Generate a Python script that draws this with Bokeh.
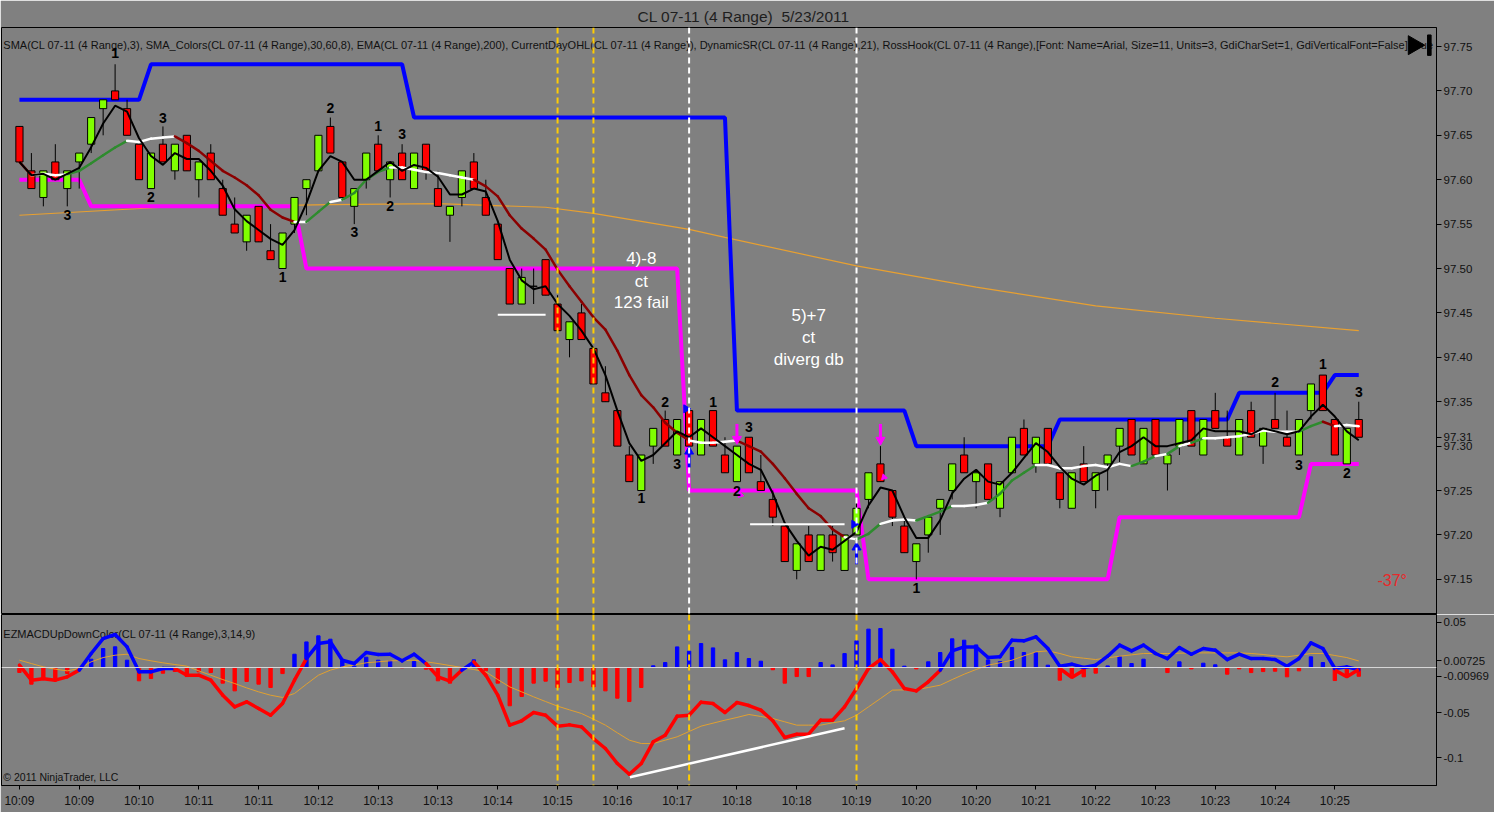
import numpy as np
import pandas as pd
from bokeh.plotting import figure
from bokeh.layouts import column
from bokeh.models import Range1d, FixedTicker, Span, ColumnDataSource, NumeralTickFormatter
from bokeh.core.properties import value
from bokeh.embed import file_html
from bokeh.resources import INLINE

FONT = "Liberation Sans"
BG = "#808080"
UP_COL = "#80ff00"
DN_COL = "#ff0000"

# ---------------- price data (4-range bars) ----------------
opens = [
    97.66, 97.61, 97.58, 97.62, 97.59, 97.62, 97.64, 97.68, 97.70, 97.68,
    97.64, 97.59, 97.64, 97.61, 97.65, 97.60, 97.63, 97.59, 97.55, 97.53,
    97.57, 97.52, 97.50, 97.55, 97.59, 97.61, 97.66, 97.62, 97.57, 97.60,
    97.64, 97.60, 97.63, 97.59, 97.64, 97.59, 97.56, 97.58, 97.62, 97.58,
    97.55, 97.50, 97.46, 97.48, 97.51, 97.46, 97.42, 97.45, 97.41, 97.36,
    97.34, 97.29, 97.25, 97.30, 97.33, 97.29, 97.34, 97.29, 97.34, 97.29,
    97.26, 97.31, 97.26, 97.24, 97.21, 97.16, 97.20, 97.16, 97.20, 97.16,
    97.20, 97.24, 97.28, 97.25, 97.21, 97.17, 97.20, 97.23, 97.25, 97.29,
    97.26, 97.28, 97.23, 97.27, 97.32, 97.28, 97.32, 97.27, 97.23, 97.28,
    97.25, 97.28, 97.30, 97.33, 97.28, 97.33, 97.28, 97.30, 97.34, 97.29,
    97.34, 97.31, 97.29, 97.34, 97.30, 97.33, 97.31, 97.29, 97.34, 97.38,
    97.33, 97.28, 97.33]
highs = [
    97.66, 97.63, 97.61, 97.64, 97.61, 97.63, 97.67, 97.69, 97.73, 97.69,
    97.64, 97.63, 97.66, 97.64, 97.65, 97.62, 97.64, 97.60, 97.58, 97.56,
    97.57, 97.55, 97.54, 97.58, 97.60, 97.65, 97.67, 97.62, 97.59, 97.63,
    97.65, 97.62, 97.64, 97.63, 97.64, 97.61, 97.57, 97.61, 97.63, 97.60,
    97.55, 97.50, 97.50, 97.50, 97.51, 97.47, 97.44, 97.46, 97.41, 97.39,
    97.34, 97.30, 97.29, 97.32, 97.34, 97.33, 97.34, 97.33, 97.34, 97.31,
    97.30, 97.31, 97.29, 97.25, 97.21, 97.19, 97.21, 97.20, 97.21, 97.20,
    97.24, 97.27, 97.30, 97.25, 97.22, 97.19, 97.22, 97.24, 97.28, 97.31,
    97.27, 97.28, 97.26, 97.31, 97.33, 97.31, 97.32, 97.27, 97.27, 97.30,
    97.27, 97.29, 97.32, 97.33, 97.32, 97.33, 97.29, 97.33, 97.34, 97.33,
    97.36, 97.34, 97.33, 97.35, 97.32, 97.36, 97.34, 97.33, 97.37, 97.38,
    97.33, 97.32, 97.35]
lows = [
    97.62, 97.59, 97.57, 97.60, 97.57, 97.59, 97.63, 97.65, 97.69, 97.65,
    97.60, 97.59, 97.62, 97.60, 97.61, 97.58, 97.60, 97.56, 97.54, 97.52,
    97.53, 97.51, 97.50, 97.54, 97.56, 97.61, 97.63, 97.58, 97.55, 97.59,
    97.61, 97.58, 97.60, 97.59, 97.60, 97.57, 97.53, 97.57, 97.59, 97.56,
    97.51, 97.46, 97.46, 97.46, 97.47, 97.43, 97.40, 97.42, 97.37, 97.35,
    97.30, 97.26, 97.25, 97.28, 97.30, 97.29, 97.30, 97.29, 97.30, 97.27,
    97.26, 97.27, 97.25, 97.21, 97.17, 97.15, 97.17, 97.16, 97.17, 97.16,
    97.20, 97.23, 97.26, 97.21, 97.18, 97.15, 97.18, 97.20, 97.24, 97.27,
    97.23, 97.24, 97.22, 97.27, 97.29, 97.27, 97.28, 97.23, 97.23, 97.26,
    97.23, 97.25, 97.28, 97.29, 97.28, 97.29, 97.25, 97.29, 97.30, 97.29,
    97.32, 97.30, 97.29, 97.31, 97.28, 97.32, 97.30, 97.29, 97.33, 97.34,
    97.29, 97.28, 97.31]
closes = [
    97.62, 97.59, 97.61, 97.60, 97.61, 97.63, 97.67, 97.69, 97.69, 97.65,
    97.60, 97.63, 97.62, 97.64, 97.61, 97.62, 97.60, 97.56, 97.54, 97.56,
    97.53, 97.51, 97.54, 97.58, 97.60, 97.65, 97.63, 97.58, 97.59, 97.63,
    97.61, 97.62, 97.60, 97.63, 97.61, 97.57, 97.57, 97.61, 97.59, 97.56,
    97.51, 97.46, 97.49, 97.48, 97.47, 97.43, 97.44, 97.42, 97.37, 97.35,
    97.30, 97.26, 97.29, 97.32, 97.30, 97.33, 97.30, 97.33, 97.30, 97.27,
    97.30, 97.27, 97.25, 97.22, 97.17, 97.19, 97.17, 97.20, 97.18, 97.20,
    97.23, 97.27, 97.26, 97.22, 97.18, 97.19, 97.22, 97.24, 97.28, 97.27,
    97.27, 97.24, 97.26, 97.31, 97.29, 97.31, 97.28, 97.24, 97.27, 97.26,
    97.27, 97.29, 97.32, 97.29, 97.32, 97.29, 97.29, 97.33, 97.30, 97.33,
    97.32, 97.30, 97.33, 97.31, 97.32, 97.32, 97.30, 97.33, 97.37, 97.34,
    97.29, 97.32, 97.31]

# DynamicSR resistance (blue) and support (magenta) per bar
blue_sr = [
    97.69, 97.69, 97.69, 97.69, 97.69, 97.69, 97.69, 97.69, 97.69, 97.69,
    97.69, 97.73, 97.73, 97.73, 97.73, 97.73, 97.73, 97.73, 97.73, 97.73,
    97.73, 97.73, 97.73, 97.73, 97.73, 97.73, 97.73, 97.73, 97.73, 97.73,
    97.73, 97.73, 97.73, 97.67, 97.67, 97.67, 97.67, 97.67, 97.67, 97.67,
    97.67, 97.67, 97.67, 97.67, 97.67, 97.67, 97.67, 97.67, 97.67, 97.67,
    97.67, 97.67, 97.67, 97.67, 97.67, 97.67, 97.67, 97.67, 97.67, 97.67,
    97.34, 97.34, 97.34, 97.34, 97.34, 97.34, 97.34, 97.34, 97.34, 97.34,
    97.34, 97.34, 97.34, 97.34, 97.34, 97.30, 97.30, 97.30, 97.30, 97.30,
    97.30, 97.30, 97.30, 97.30, 97.30, 97.30, 97.30, 97.33, 97.33, 97.33,
    97.33, 97.33, 97.33, 97.33, 97.33, 97.33, 97.33, 97.33, 97.33, 97.33,
    97.33, 97.33, 97.36, 97.36, 97.36, 97.36, 97.36, 97.36, 97.36, 97.36,
    97.38, 97.38, 97.38]
mag_sr = [
    97.60, 97.60, 97.60, 97.60, 97.60, 97.60, 97.57, 97.57, 97.57, 97.57,
    97.57, 97.57, 97.57, 97.57, 97.57, 97.57, 97.57, 97.57, 97.57, 97.57,
    97.57, 97.57, 97.57, 97.57, 97.50, 97.50, 97.50, 97.50, 97.50, 97.50,
    97.50, 97.50, 97.50, 97.50, 97.50, 97.50, 97.50, 97.50, 97.50, 97.50,
    97.50, 97.50, 97.50, 97.50, 97.50, 97.50, 97.50, 97.50, 97.50, 97.50,
    97.50, 97.50, 97.50, 97.50, 97.50, 97.50, 97.25, 97.25, 97.25, 97.25,
    97.25, 97.25, 97.25, 97.25, 97.25, 97.25, 97.25, 97.25, 97.25, 97.25,
    97.25, 97.15, 97.15, 97.15, 97.15, 97.15, 97.15, 97.15, 97.15, 97.15,
    97.15, 97.15, 97.15, 97.15, 97.15, 97.15, 97.15, 97.15, 97.15, 97.15,
    97.15, 97.15, 97.22, 97.22, 97.22, 97.22, 97.22, 97.22, 97.22, 97.22,
    97.22, 97.22, 97.22, 97.22, 97.22, 97.22, 97.22, 97.22, 97.28, 97.28,
    97.28, 97.28, 97.28]

# EMA(200) read at a few bars
ema_bars = [0, 12, 26, 35, 44, 48, 56, 59, 70, 80, 90, 100, 112]
ema_vals = [97.560, 97.569, 97.572, 97.573, 97.569, 97.562, 97.544, 97.535,
            97.503, 97.479, 97.458, 97.444, 97.430]

# ---------------- MACD panel data ----------------
macd = [
    0.0026, -0.0140, -0.0125, -0.0140, -0.0103, -0.0029, 0.0155, 0.0320, 0.0365, 0.0228,
    -0.0048, -0.0048, -0.0011, -0.0011, -0.0085, -0.0085, -0.0140, -0.0306, -0.0435, -0.0379,
    -0.0453, -0.0527, -0.0398, -0.0140, 0.0099, 0.0265, 0.0284, 0.0081, 0.0044, 0.0166,
    0.0144, 0.0147, 0.0074, 0.0147, 0.0044, -0.0103, -0.0151, -0.0029, 0.0063, -0.0085,
    -0.0306, -0.0637, -0.0589, -0.0497, -0.0527, -0.0648, -0.0634, -0.0656, -0.0785, -0.0895,
    -0.1061, -0.1179, -0.1061, -0.0821, -0.0748, -0.0538, -0.0527, -0.0383, -0.0398, -0.0497,
    -0.0387, -0.0420, -0.0471, -0.0589, -0.0773, -0.0737, -0.0737, -0.0582, -0.0582, -0.0435,
    -0.0232, -0.0011, 0.0088, -0.0048, -0.0232, -0.0258, -0.0158, -0.0029, 0.0184, 0.0228,
    0.0228, 0.0110, 0.0118, 0.0302, 0.0295, 0.0339, 0.0210, 0.0015, 0.0037, 0.0000,
    0.0026, 0.0125, 0.0247, 0.0184, 0.0247, 0.0155, 0.0099, 0.0221, 0.0147, 0.0210,
    0.0192, 0.0088, 0.0147, 0.0099, 0.0099, 0.0088, 0.0015, 0.0099, 0.0273, 0.0210,
    -0.0011, 0.0007, -0.00244]
signal = [
    0.0081, 0.0044, 0.0007, -0.0018, -0.0037, -0.0011, 0.0063, 0.0110, 0.0136, 0.0147,
    0.0099, 0.0074, 0.0052, 0.0033, 0.0015, -0.0037, -0.0085, -0.0133, -0.0177, -0.0225,
    -0.0269, -0.0306, -0.0331, -0.0287, -0.0184, -0.0085, -0.0029, 0.0007, 0.0029, 0.0052,
    0.0063, 0.0074, 0.0077, 0.0081, 0.0063, 0.0044, 0.0022, 0.0000, -0.0022, -0.0048,
    -0.0133, -0.0214, -0.0269, -0.0324, -0.0376, -0.0427, -0.0468, -0.0508, -0.0571, -0.0637,
    -0.0722, -0.0803, -0.0840, -0.0840, -0.0803, -0.0766, -0.0707, -0.0648, -0.0615, -0.0582,
    -0.0552, -0.0519, -0.0541, -0.0564, -0.0600, -0.0637, -0.0637, -0.0637, -0.0611, -0.0589,
    -0.0527, -0.0435, -0.0343, -0.0250, -0.0247, -0.0243, -0.0221, -0.0195, -0.0133, -0.0074,
    -0.0022, 0.0026, 0.0052, 0.0081, 0.0129, 0.0173, 0.0184, 0.0155, 0.0118, 0.0103,
    0.0088, 0.0107, 0.0125, 0.0140, 0.0155, 0.0155, 0.0155, 0.0158, 0.0162, 0.0162,
    0.0162, 0.0162, 0.0162, 0.0155, 0.0144, 0.0129, 0.0118, 0.0136, 0.0155, 0.0155,
    0.0133, 0.0110, 0.00725]
macd_up = [
    0, 0, 0, 0, 0, 0, 1, 1, 1, 1,
    1, 1, 1, 1, 0, 0, 0, 0, 0, 0,
    0, 0, 0, 0, 0, 1, 1, 1, 1, 1,
    1, 1, 1, 1, 1, 0, 0, 0, 1, 0,
    0, 0, 0, 0, 0, 0, 0, 0, 0, 0,
    0, 0, 0, 0, 0, 0, 0, 0, 0, 0,
    0, 0, 0, 0, 0, 0, 0, 0, 0, 0,
    0, 0, 0, 0, 0, 0, 0, 0, 1, 1,
    1, 1, 1, 1, 1, 1, 1, 1, 1, 1,
    1, 1, 1, 1, 1, 1, 1, 1, 1, 1,
    1, 1, 1, 1, 1, 1, 1, 1, 1, 1,
    1, 1, 1]
# short red "down" plot overlays
macd_dn_x = [87, 88, 89, np.nan, 110, 111, 112]
macd_dn_y = [-0.0011, -0.0110, -0.0029, np.nan, -0.0029, -0.0103, -0.0022]

# ---------------- axis labels ----------------
xtick_bars = [0, 5, 10, 15, 20, 25, 30, 35, 40, 45, 50, 55, 60, 65, 70, 75, 80, 85, 90, 95, 100, 105, 110]
xtick_labels = ["10:09", "10:09", "10:10", "10:11", "10:11", "10:12", "10:13", "10:13", "10:14",
                "10:15", "10:16", "10:17", "10:18", "10:18", "10:19", "10:20", "10:20", "10:21",
                "10:22", "10:23", "10:23", "10:24", "10:25"]
price_ticks = [97.15, 97.20, 97.25, 97.30, 97.35, 97.40, 97.45, 97.50, 97.55, 97.60, 97.65, 97.70, 97.75]
last_price = 97.31
macd_ticks = [0.05, -0.05, -0.1]
macd_tick_labels = ["0.05", "-0.05", "-0.1"]
macd_last_values = [0.00725, -0.00969]
macd_last_labels = ["0.00725", "-0.00969"]

# ---------------- annotations ----------------
swing_x = [8, 12, 11, 4, 22, 26, 28, 30, 31, 32, 54, 55, 52, 58, 61, 60, 75, 105, 107, 109, 111, 112]
swing_y = [97.743, 97.670, 97.581, 97.560, 97.490, 97.681, 97.541, 97.661, 97.570, 97.652,
           97.350, 97.280, 97.242, 97.350, 97.321, 97.250, 97.140, 97.372, 97.279, 97.392,
           97.270, 97.361]
swing_t = ["1", "3", "2", "3", "1", "2", "3", "1", "2", "3", "2", "3", "1", "1", "3", "2",
           "1", "2", "3", "1", "2", "3"]
note_x = [52, 52, 52, 66, 66, 66]
note_y = [97.511, 97.485, 97.462, 97.447, 97.422, 97.397]
note_t = ["4)-8", "ct", "123 fail", "5)+7", "ct", "diverg db"]
vline_bars = [45, 48, 56, 70]
vline_upper_colors = ["#ffcc00", "#ffcc00", "#ffffff", "#ffffff"]
hline_x0 = [40, 61.1]
hline_x1 = [44, 69]
hline_y = [97.448, 97.212]
trend_x = [51.05, 69]
trend_y = [-0.1212, -0.0671]
up_arrow_x = [56, 70]
up_arrow_tail = [97.276, 97.167]
up_arrow_head = [97.294, 97.186]
right_tri_x = [55.75, 69.8]
right_tri_y = [97.342, 97.212]
dn_arrow_x = [60, 72]
dn_arrow_tail = [97.325, 97.325]
dn_arrow_head = [97.308, 97.307]
small_mark_x = [60.3, 72.3]
small_mark_y = [97.245, 97.265]

n = len(closes)
assert all(len(a) == n for a in [opens, highs, lows, blue_sr, mag_sr, macd, signal, macd_up])
bars = list(range(n))

# derived indicators
cs = pd.Series(closes)
sma3 = cs.rolling(3, min_periods=1).mean().tolist()
sma8 = cs.rolling(8, min_periods=1).mean().tolist()
hist = [m - s for m, s in zip(macd, signal)]

# ================= PRICE PANEL =================
xr = Range1d(-1.5, 118.5)
p = figure(width=1494, height=614, x_range=xr, y_range=Range1d(97.1104, 97.7714),
           output_backend="svg", toolbar_location=None, y_axis_location="right",
           x_axis_location=None, min_border_left=1, min_border_right=58,
           min_border_top=27, min_border_bottom=0,
           title="CL 07-11 (4 Range)\u00a0 5/23/2011")
p.title.text_font = FONT
p.title.text_font_size = "15.5px"
p.title.text_font_style = "normal"
p.title.text_color = "#1e1e1e"
p.title.align = "left"
p.title.offset = 636
p.title.standoff = 6
p.background_fill_color = BG
p.border_fill_color = BG
p.outline_line_color = "black"
p.outline_line_width = 1
p.grid.visible = False
ya = p.yaxis[0]
ya.ticker = FixedTicker(ticks=price_ticks + [last_price])
ya.formatter = NumeralTickFormatter(format="0.00")
ya.axis_line_color = "black"
ya.major_tick_line_color = "black"
ya.major_tick_out = 5
ya.major_tick_in = 0
ya.minor_tick_line_color = None
ya.major_label_text_font = FONT
ya.major_label_text_font_size = "11.5px"
ya.major_label_text_color = "#111111"
ya.major_label_standoff = 2

# indicator header
p.text(x=[-1.35], y=[97.7515], text=["SMA(CL 07-11 (4 Range),3), SMA_Colors(CL 07-11 (4 Range),30,60,8), "
       "EMA(CL 07-11 (4 Range),200), CurrentDayOHL(CL 07-11 (4 Range)), DynamicSR(CL 07-11 (4 Range),21), "
       "RossHook(CL 07-11 (4 Range),[Font: Name=Arial, Size=11, Units=3, GdiCharSet=1, GdiVerticalFont=False],True"],
       text_font=value(FONT), text_font_size="11px", text_color="#111111",
       text_align="left", text_baseline="middle")

# EMA 200
p.line(ema_bars, ema_vals, line_color="#e8a030", line_width=1.2)
# Dynamic S/R
p.line(bars, blue_sr, line_color="#0000ff", line_width=4)
p.line(bars, mag_sr, line_color="#ff00ff", line_width=4)

# candles
inc = [c >= o for o, c in zip(opens, closes)]
src = ColumnDataSource(dict(
    x=bars, h=highs, l=lows,
    top=[max(o, c) for o, c in zip(opens, closes)],
    bottom=[min(o, c) for o, c in zip(opens, closes)],
    color=[UP_COL if u else DN_COL for u in inc]))
p.segment(x0="x", y0="h", x1="x", y1="l", source=src, line_color="black", line_width=1)
p.vbar(x="x", width=0.6, top="top", bottom="bottom", fill_color="color",
       line_color="black", line_width=1, source=src)

# SMA colors (period 8)
seg_col = []
for i in range(1, n):
    d = sma8[i] - sma8[i - 1]
    seg_col.append("#2e8b2e" if d > 0.004 else ("#8b0000" if d < -0.004 else "#ffffff"))
p.segment(x0=bars[:-1], y0=sma8[:-1], x1=bars[1:], y1=sma8[1:], line_color=seg_col,
          line_width=2.5, line_cap="round")
# SMA 3
p.line(bars, sma3, line_color="black", line_width=2)

# drawn horizontal white lines
p.segment(x0=hline_x0, y0=hline_y, x1=hline_x1, y1=hline_y, line_color="white", line_width=2)

# vertical dashed lines
for b, c in zip(vline_bars, vline_upper_colors):
    p.add_layout(Span(location=b, dimension="height", line_color=c, line_width=2, line_dash="6 4"))

# arrows
p.segment(x0=up_arrow_x, y0=up_arrow_tail, x1=up_arrow_x, y1=up_arrow_head, line_color="#0000ff", line_width=3)
p.scatter(x=up_arrow_x, y=up_arrow_head, marker="triangle", size=9, fill_color="#0000ff", line_color="#0000ff")
p.scatter(x=right_tri_x, y=right_tri_y, marker="triangle", angle=-np.pi / 2, size=8,
          fill_color="#0000ff", line_color="#0000ff")
p.segment(x0=dn_arrow_x, y0=dn_arrow_tail, x1=dn_arrow_x, y1=dn_arrow_head, line_color="#ff00ff", line_width=3)
p.scatter(x=dn_arrow_x, y=dn_arrow_head, marker="inverted_triangle", size=9,
          fill_color="#ff00ff", line_color="#ff00ff")
p.scatter(x=small_mark_x, y=small_mark_y, marker="triangle", angle=np.pi * 0.75, size=6,
          fill_color="#ff00ff", line_color="#ff00ff")

# swing numbers
p.text(x=swing_x, y=swing_y, text=swing_t, text_font=value(FONT), text_font_style="bold",
       text_font_size="14px", text_color="black", text_align="center", text_baseline="middle")
# notes
p.text(x=note_x, y=note_y, text=note_t, text_font=value(FONT), text_font_size="17px",
       text_color="white", text_align="center", text_baseline="middle")
p.text(x=[114.8], y=[97.149], text=["-37°"], text_font=value(FONT), text_font_size="16px",
       text_color="#e8282a", text_align="center", text_baseline="middle")

# play-to-end icon
p.scatter(x=[116.6], y=[97.7515], marker="triangle", angle=-np.pi / 2, size=19,
          fill_color="black", line_color="black")
p.quad(left=[117.75], right=[118.05], bottom=[97.740], top=[97.763], fill_color="black", line_color="black")

# ================= MACD PANEL =================
q = figure(width=1494, height=198, x_range=xr, y_range=Range1d(-0.1304, 0.0586),
           output_backend="svg", toolbar_location=None, y_axis_location="right",
           min_border_left=1, min_border_right=58, min_border_top=0, min_border_bottom=27)
q.background_fill_color = BG
q.border_fill_color = BG
q.outline_line_color = "black"
q.outline_line_width = 1
q.grid.visible = False
qy = q.yaxis[0]
qy.ticker = FixedTicker(ticks=macd_ticks + macd_last_values)
qy.major_label_overrides = dict(zip(macd_ticks + macd_last_values, macd_tick_labels + macd_last_labels))
qy.axis_line_color = "black"
qy.major_tick_line_color = "black"
qy.major_tick_out = 5
qy.major_tick_in = 0
qy.minor_tick_line_color = None
qy.major_label_text_font = FONT
qy.major_label_text_font_size = "11.5px"
qy.major_label_text_color = "#111111"
qy.major_label_standoff = 2
qx = q.xaxis[0]
qx.ticker = FixedTicker(ticks=xtick_bars)
qx.major_label_overrides = dict(zip(xtick_bars, xtick_labels))
qx.axis_line_color = "black"
qx.major_tick_line_color = "black"
qx.major_tick_out = 4
qx.major_tick_in = 0
qx.minor_tick_line_color = None
qx.major_label_text_font = FONT
qx.major_label_text_font_size = "12px"
qx.major_label_text_color = "#111111"
qx.major_label_standoff = 4

q.text(x=[-1.35], y=[0.0376], text=["EZMACDUpDownColor(CL 07-11 (4 Range),3,14,9)"],
       text_font=value(FONT), text_font_size="11px", text_color="#111111",
       text_align="left", text_baseline="middle")
q.text(x=[-1.35], y=[-0.1215], text=["© 2011 NinjaTrader, LLC"],
       text_font=value(FONT), text_font_size="10.5px", text_color="#111111",
       text_align="left", text_baseline="middle")

q.add_layout(Span(location=0, dimension="width", line_color="#d8d8d8", line_width=1))
q.vbar(x=bars, width=0.28, top=hist, bottom=0,
       color=["#0000ff" if h >= 0 else "#ff0000" for h in hist])
q.line(bars, signal, line_color="#e0a030", line_width=1)
q.segment(x0=bars[:-1], y0=macd[:-1], x1=bars[1:], y1=macd[1:],
          line_color=["#0000ff" if u else "#ff0000" for u in macd_up[1:]],
          line_width=3.5, line_cap="round")
q.line(macd_dn_x, macd_dn_y, line_color="#ff0000", line_width=3.5)
q.line(trend_x, trend_y, line_color="white", line_width=2.5)
for b in vline_bars:
    q.add_layout(Span(location=b, dimension="height", line_color="#ffcc00", line_width=2, line_dash="6 4"))

layout = column(p, q, spacing=0)
open("out.html", "w").write(file_html(layout, INLINE))
